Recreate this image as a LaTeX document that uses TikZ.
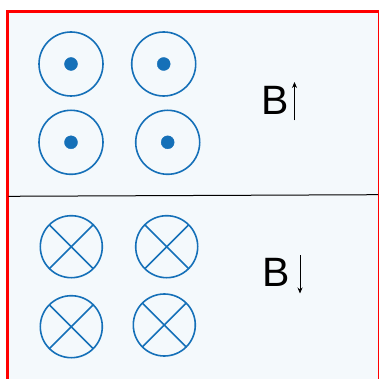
\documentclass[tikz,border=0pt]{standalone}
\usepackage{fontspec}
\setmainfont{Liberation Sans}
\usetikzlibrary{arrows.meta,positioning}
\definecolor{wireblue}{RGB}{21,112,184}
\definecolor{panelfill}{RGB}{244,249,252}
\tikzset{
  wire/.style={wireblue, line width=1.6pt},
  fieldlabel/.style={inner sep=0pt, font=\fontsize{41}{41}\selectfont},
  fieldarrow/.style={line width=0.8pt, -{Stealth[length=6pt,width=5pt]}}
}

\begin{document}
\begin{tikzpicture}[x=1pt,y=-1pt]
		\useasboundingbox (0,0) rectangle (378,379);
		\path [draw=red, line width=3pt, fill=panelfill](7.5,11.5) rectangle (379.8,390);
		\coordinate (L) at (8.5,196.3);  \coordinate (R) at (378,194.7);
		\path [draw, line width=1pt](L) --(R);
		% out of the page
		\coordinate (A) at (71,64);   \draw[wire] (A) circle (32);  \filldraw[wireblue] (A) circle (6.5);
		\coordinate (B) at (163.7,64);   \draw[wire] (B) circle (32);  \filldraw[wireblue] (B) circle (6.5);
		\coordinate (C) at (71,142.3);   \draw[wire] (C) circle (32);  \filldraw[wireblue] (C) circle (6.5);
		\coordinate (D) at (167.7,142.3);   \draw[wire] (D) circle (32);  \filldraw[wireblue] (D) circle (6.5);
		% into the page
		\coordinate (E) at (71.3,246.7);   \draw[wire] (E) circle (31);
		\draw[wire] (E) +(45:31) -- +(225:31);  \draw[wire] (E) +(135:31) -- +(315:31);
		\coordinate (F) at (166.7,246.7);   \draw[wire] (F) circle (31);
		\draw[wire] (F) +(45:31) -- +(225:31);  \draw[wire] (F) +(135:31) -- +(315:31);
		\coordinate (G) at (71.3,326.7);   \draw[wire] (G) circle (31);
		\draw[wire] (G) +(45:31) -- +(225:31);  \draw[wire] (G) +(135:31) -- +(315:31);
		\coordinate (H) at (164.3,325);   \draw[wire] (H) circle (31);
		\draw[wire] (H) +(45:31) -- +(225:31);  \draw[wire] (H) +(135:31) -- +(315:31);
		% field labels
		\node[fieldlabel] (Bup) at (274.8,100){B};
		\coordinate (upfoot) at (294.5,120.5);  \coordinate (uptip) at (294.5,82);
		\draw[fieldarrow] (upfoot) -- (uptip);
		\node[fieldlabel] (Bdown) at (276.3,272.2){B};
		\coordinate (downfoot) at (300,255);  \coordinate (downtip) at (300,293.5);
		\draw[fieldarrow] (downfoot) -- (downtip);
	\end{tikzpicture}
\end{document}
